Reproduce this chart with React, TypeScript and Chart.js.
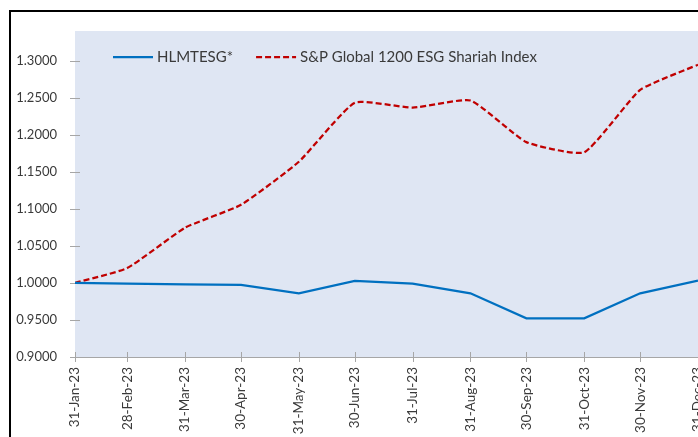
import React, { useEffect, useRef } from "react";
import { Chart, registerables } from "chart.js";

Chart.register(...registerables);

const dates = [
  "2023-01-31", "2023-02-28", "2023-03-31", "2023-04-30", "2023-05-31", "2023-06-30",
  "2023-07-31", "2023-08-31", "2023-09-30", "2023-10-31", "2023-11-30", "2023-12-31",
];
const dateLabels = [
  "31-Jan-23", "28-Feb-23", "31-Mar-23", "30-Apr-23", "31-May-23", "30-Jun-23",
  "31-Jul-23", "31-Aug-23", "30-Sep-23", "31-Oct-23", "30-Nov-23", "31-Dec-23",
];
const hlmtesg = [1.0, 0.999, 0.998, 0.9973, 0.986, 1.0027, 0.999, 0.986, 0.9523, 0.9523, 0.986, 1.003];
const spGlobal = [1.0, 1.02, 1.0745, 1.1054, 1.1635, 1.2432, 1.2365, 1.2462, 1.19, 1.1762, 1.2605, 1.2945];
const yTicks = [0.9, 0.95, 1.0, 1.05, 1.1, 1.15, 1.2, 1.25, 1.3];
const seriesNames = ["HLMTESG*", "S&P Global 1200 ESG Shariah Index"];

const DAY = 86400000;
const toMs = (s: string) => {
  const [y, m, d] = s.split("-").map(Number);
  return Date.UTC(y, m - 1, d);
};
const base = toMs(dates[0]);
const dayOffsets = dates.map((d) => Math.round((toMs(d) - base) / DAY));

const FONT = "Lato, 'Open Sans', sans-serif";
const TEXT = "#3a3a3a";
const AXIS = "#a6a6a6";
const BLUE = "#0070c0";
const RED = "#c00000";

const bgPlugin = {
  id: "bgPlugin",
  beforeDatasetsDraw(chart: any) {
    const { ctx, chartArea: a, scales } = chart;
    ctx.save();
    ctx.fillStyle = "#dfe6f3";
    ctx.fillRect(a.left, a.top, a.right - a.left + 20, a.bottom - a.top);
    ctx.strokeStyle = AXIS;
    ctx.lineWidth = 1;
    ctx.beginPath();
    scales.y.ticks.forEach((t: any) => {
      const y = Math.round(scales.y.getPixelForValue(t.value)) + 0.5;
      ctx.moveTo(a.left - 5, y);
      ctx.lineTo(a.left + 5, y);
    });
    scales.x.ticks.forEach((t: any) => {
      const x = Math.round(scales.x.getPixelForValue(t.value)) + 0.5;
      ctx.moveTo(x, a.bottom - 5);
      ctx.lineTo(x, a.bottom + 5);
    });
    ctx.stroke();
    ctx.restore();
  },
};

const legendPlugin = {
  id: "insideLegend",
  afterDatasetsDraw(chart: any) {
    const { ctx, chartArea: a } = chart;
    ctx.save();
    ctx.font = `15px ${FONT}`;
    ctx.textBaseline = "middle";
    let x = a.left + 38;
    const y = a.top + 26;
    chart.data.datasets.forEach((ds: any) => {
      ctx.strokeStyle = ds.borderColor;
      ctx.lineWidth = 2.25;
      ctx.setLineDash(ds.borderDash || []);
      ctx.beginPath();
      ctx.moveTo(x, y);
      ctx.lineTo(x + 40, y);
      ctx.stroke();
      ctx.setLineDash([]);
      ctx.fillStyle = TEXT;
      ctx.fillText(ds.label, x + 44, y);
      x += 44 + ctx.measureText(ds.label).width + 23;
    });
    ctx.restore();
  },
};

export default function App() {
  const ref = useRef<HTMLCanvasElement>(null);
  useEffect(() => {
    if (!ref.current) return;
    const chart = new Chart(ref.current, {
      type: "line",
      data: {
        datasets: [
          {
            label: seriesNames[0],
            data: dayOffsets.map((x, i) => ({ x, y: hlmtesg[i] })),
            borderColor: BLUE,
            borderWidth: 2.25,
            pointRadius: 0,
            tension: 0,
          },
          {
            label: seriesNames[1],
            data: dayOffsets.map((x, i) => ({ x, y: spGlobal[i] })),
            borderColor: RED,
            borderWidth: 2.25,
            borderDash: [6, 3],
            pointRadius: 0,
            tension: 0.15,
          },
        ],
      },
      options: {
        animation: false,
        responsive: false,
        devicePixelRatio: 1,
        layout: { padding: { left: 0, top: 19, right: 13, bottom: 0 } },
        plugins: { legend: { display: false }, tooltip: { enabled: false } },
        scales: {
          x: {
            type: "linear",
            min: 0,
            max: dayOffsets[dayOffsets.length - 1],
            afterBuildTicks: (s: any) => {
              s.ticks = dayOffsets.map((v) => ({ value: v }));
            },
            afterFit: (s: any) => {
              s.height = 125;
              s.paddingLeft = 0;
              s.paddingRight = 0;
            },
            grid: { display: false, drawTicks: false },
            border: { display: true, color: AXIS, width: 1 },
            ticks: {
              autoSkip: false,
              maxRotation: 90,
              minRotation: 90,
              padding: 10,
              color: TEXT,
              font: { family: FONT, size: 13.5 },
              callback: (_v: any, i: number) => dateLabels[i],
            },
          },
          y: {
            min: 0.9,
            max: 1.34,
            afterBuildTicks: (s: any) => {
              s.ticks = yTicks.map((v) => ({ value: v }));
            },
            afterFit: (s: any) => {
              s.width = 64;
              s.paddingTop = 0;
              s.paddingBottom = 0;
            },
            grid: { display: false, drawTicks: false },
            border: { display: true, color: AXIS, width: 1 },
            ticks: {
              padding: 18,
              color: TEXT,
              font: { family: FONT, size: 13 },
              callback: (v: any) => Number(v).toFixed(4),
            },
          },
        },
      },
      plugins: [bgPlugin, legendPlugin],
    } as any);
    return () => chart.destroy();
  }, []);

  return (
    <div
      style={{
        position: "fixed",
        left: 0,
        top: 0,
        width: 698,
        height: 437,
        overflow: "hidden",
        background: "#fff",
      }}
    >
      <div
        style={{
          position: "absolute",
          left: 9,
          top: 10,
          width: 760,
          height: 480,
          borderLeft: "2px solid #000",
          borderTop: "2px solid #000",
        }}
      >
        <canvas
          ref={ref}
          width={700}
          height={470}
          style={{ position: "absolute", left: 0, top: 0, width: 700, height: 470 }}
        />
      </div>
    </div>
  );
}
